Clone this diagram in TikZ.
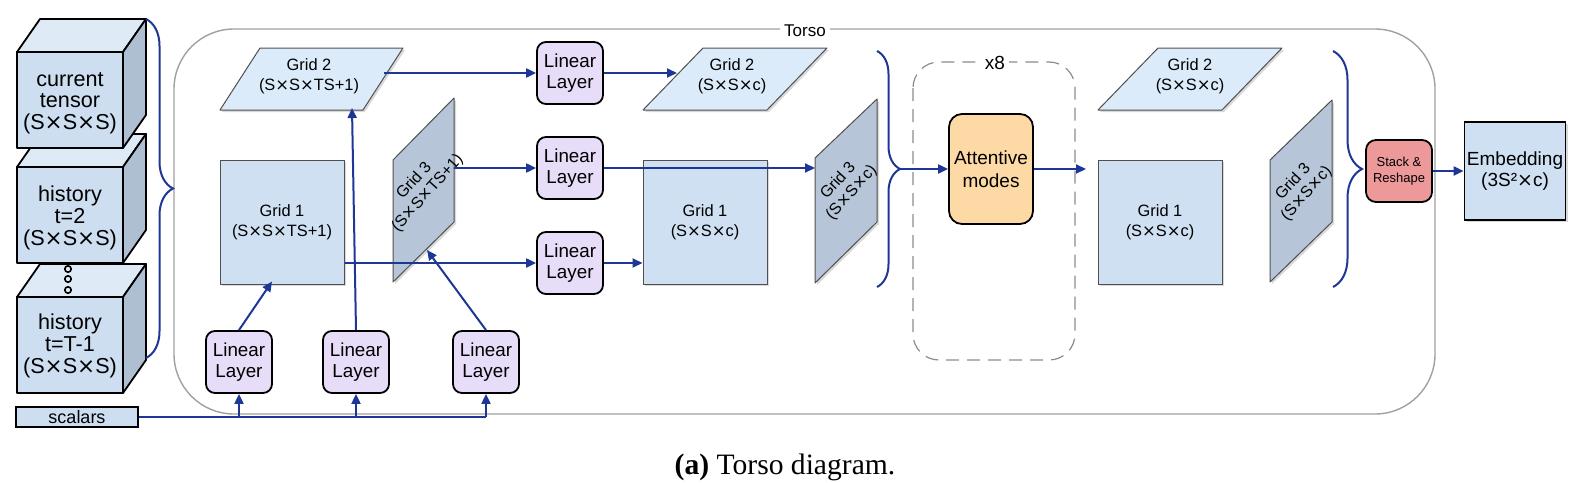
\documentclass[tikz,border=0pt]{standalone}
\usepackage{fontspec}
\setmainfont{Liberation Serif}
\setsansfont{Liberation Sans}
\newfontfamily\djv{DejaVu Sans}
\newcommand\tms{{\djv ×}}
\usetikzlibrary{arrows.meta,decorations.pathreplacing,shadows,calc}

\definecolor{ablue}{RGB}{30,55,150}
\definecolor{gborder}{RGB}{80,80,80}
\definecolor{gonefill}{RGB}{207,224,242}
\definecolor{gtwofill}{RGB}{220,235,250}
\definecolor{gthreefill}{RGB}{182,198,216}
\definecolor{llfill}{RGB}{232,221,248}
\definecolor{attfill}{RGB}{253,217,165}
\definecolor{stackfill}{RGB}{238,153,153}
\definecolor{cubefront}{RGB}{205,222,240}
\definecolor{cubetop}{RGB}{222,234,246}
\definecolor{cubeside}{RGB}{174,191,210}
\definecolor{torsogray}{RGB}{160,160,160}
\definecolor{dashgray}{RGB}{140,140,140}

\tikzset{
  arr/.style={draw=ablue, line width=1pt, -{Triangle[length=5pt,width=4.5pt]}},
  bus/.style={draw=ablue, line width=1pt},
  brc/.style={draw=ablue, line width=1pt, decorate, decoration={brace, amplitude=#1}},
  llbox/.style={draw=black, line width=0.9pt, rounded corners=4.5pt, fill=llfill,
    minimum width=33pt, minimum height=31pt, inner sep=0pt, align=center,
    font=\sffamily\fontsize{9.4}{10.8}\selectfont},
  gridsq/.style={draw=gborder, line width=0.5pt, fill=gonefill, minimum width=62pt,
    minimum height=62pt, inner sep=0pt, align=center,
    font=\sffamily\fontsize{8.2}{10}\selectfont,
    drop shadow={opacity=0.3, shadow xshift=1pt, shadow yshift=-1pt}},
  gridtxt/.style={align=center, inner sep=0pt, font=\sffamily\fontsize{8.2}{10}\selectfont},
  rottxt/.style={align=center, inner sep=0pt, rotate=48, font=\sffamily\fontsize{8}{9}\selectfont},
  pgramtwo/.style={draw=gborder, line width=0.5pt, fill=gtwofill, line join=round,
    drop shadow={opacity=0.3, shadow xshift=1pt, shadow yshift=-1pt}},
  pgramthree/.style={draw=gborder, line width=0.5pt, fill=gthreefill, line join=round,
    drop shadow={opacity=0.3, shadow xshift=1pt, shadow yshift=-1pt}},
  cubeline/.style={draw=black, line width=0.9pt, line join=round},
  cubetxt/.style={align=center, inner sep=0pt, font=\sffamily\fontsize{10.8}{10.8}\selectfont},
  cube/.pic={
    \draw[cubeline, fill=cubetop] (0,0) -- (23,-33) -- (129,-33) -- (106,0) -- cycle;
    \draw[cubeline, fill=cubeside] (106,0) -- (129,-33) -- (129,63) -- (106,96) -- cycle;
    \draw[cubeline, fill=cubefront] (0,0) rectangle (106,96);
  }
}

\begin{document}
\begin{tikzpicture}[x=0.5pt,y=-0.5pt]
\useasboundingbox (0,0) rectangle (1582,482);

% Torso frame
\draw[torsogray, line width=0.7pt, rounded corners=30pt] (174,29) rectangle (1435,414);
\node[fill=white, inner sep=2pt, font=\sffamily\fontsize{8.5}{10}\selectfont] (torsolbl) at (805,31) {Torso};

% cubes (back to front)
\pic at (17,297) {cube};
\pic at (17,167) {cube};
\pic at (17,52) {cube};
\node[cubetxt] (cthree) at (70,346) {history\\t=T-1\\(S\tms S\tms S)};
\node[cubetxt] (ctwo) at (70,218) {history\\t=2\\(S\tms S\tms S)};
\node[cubetxt] (cone) at (70,103) {current\\tensor\\(S\tms S\tms S)};
\foreach \yy in {269,279,290}
  \draw[line width=0.8pt, fill=cubetop] (68,\yy) circle (1.6pt);

% scalars
\node[draw=black, line width=0.8pt, fill=cubefront, minimum width=61pt, minimum height=10pt,
  inner sep=0pt, font=\sffamily\fontsize{9}{10}\selectfont] (scal) at (77,417) {scalars};

% left brace
\draw[brc=13.5pt] (146,19) -- (146,358);

% ---- left grids ----
\draw[pgramtwo] (220,110) -- (363,110) -- (403,48) -- (260,48) -- cycle;
\node[gridtxt] (gtwoL) at (309,76) {Grid 2\\(S\tms S\tms TS+1)};
\node[gridsq] (goneL) at (282,222) {Grid 1\\(S\tms S\tms TS+1)};
\draw[pgramthree] (393,160) -- (454,98) -- (454,222) -- (393,282) -- cycle;
\node[rottxt] (gthreeL) at (421,187) {Grid 3\\(S\tms S\tms TS+1)};

\coordinate (gtwoLout) at (384,73);
\coordinate (gtwoLin) at (352,108);
\coordinate (gthreeLout) at (454,168);
\coordinate (gthreeLin) at (427,250);

% linear layers
\node[llbox] (LLa) at (239,362) {Linear\\Layer};
\node[llbox] (LLb) at (356,362) {Linear\\Layer};
\node[llbox] (LLc) at (486,362) {Linear\\Layer};
\node[llbox] (LLone) at (570,73) {Linear\\Layer};
\node[llbox] (LLtwo) at (570,168) {Linear\\Layer};
\node[llbox] (LLthree) at (570,263) {Linear\\Layer};

% ---- middle grids ----
\draw[pgramtwo] (643,110) -- (767,110) -- (827,48) -- (703,48) -- cycle;
\node[gridtxt] (gtwoM) at (732,76) {Grid 2\\(S\tms S\tms c)};
\node[gridsq] (goneM) at (705,222) {Grid 1\\(S\tms S\tms c)};
\draw[pgramthree] (815,158) -- (877,99) -- (877,222) -- (815,283) -- cycle;
\node[rottxt] (gthreeM) at (845,187) {Grid 3\\(S\tms S\tms c)};
\coordinate (gtwoMin) at (677,73);
\coordinate (gthreeMin) at (815,168);

% middle brace
\draw[brc=11.5pt] (877,51) -- (877,287);
\coordinate (bracetipM) at (900,169);

% attentive modes
\draw[dashgray, line width=0.6pt, dash pattern=on 6.5pt off 4pt, rounded corners=13pt]
  (913,62) rectangle (1075,360);
\node[fill=white, inner sep=2pt, font=\sffamily\fontsize{9.5}{10}\selectfont] (xeight) at (995,63) {x8};
\node[draw=black, line width=0.9pt, rounded corners=6.5pt, fill=attfill, minimum width=42pt,
  minimum height=55pt, inner sep=0pt, align=center,
  font=\sffamily\fontsize{9.5}{11.5}\selectfont] (att) at (991,169) {Attentive\\modes};
\coordinate (attout) at (1086,169);

% ---- right grids ----
\draw[pgramtwo] (1098,110) -- (1222,110) -- (1282,48) -- (1158,48) -- cycle;
\node[gridtxt] (gtwoR) at (1190,76) {Grid 2\\(S\tms S\tms c)};
\node[gridsq] (goneR) at (1160,222) {Grid 1\\(S\tms S\tms c)};
\draw[pgramthree] (1270,160) -- (1332,100) -- (1332,222) -- (1270,282) -- cycle;
\node[rottxt] (gthreeR) at (1300,188) {Grid 3\\(S\tms S\tms c)};

% right brace
\draw[brc=14.5pt] (1333,51) -- (1333,287);

% stack & embedding
\node[draw=black, line width=0.9pt, rounded corners=5pt, fill=stackfill, minimum width=33pt,
  minimum height=31pt, inner sep=0pt, align=center,
  font=\sffamily\fontsize{6.5}{8.3}\selectfont] (stack) at (1399,171) {Stack \&\\Reshape};
\node[draw=black, line width=0.9pt, fill=gonefill, minimum width=50.5pt, minimum height=49pt,
  inner sep=0pt, align=center, font=\sffamily\fontsize{9.5}{10.8}\selectfont,
  drop shadow={opacity=0.3, shadow xshift=1pt, shadow yshift=-1pt}] (emb) at (1515,171)
  {Embedding\\(3S²\tms c)};

% ---- connectors ----
\coordinate (busA) at (LLa.south |- scal.east);
\coordinate (busB) at (LLb.south |- scal.east);
\coordinate (busC) at (LLc.south |- scal.east);
\draw[bus] (scal.east) -- (busC);
\draw[arr] (busA) -- (LLa.south);
\draw[arr] (busB) -- (LLb.south);
\draw[arr] (busC) -- (LLc.south);

\draw[arr] (LLa.north) -- ($(goneL.south)+(-10,-3)$);
\draw[arr] (LLb.north) -- (gtwoLin);
\draw[arr] (LLc.north) -- (gthreeLin);

\draw[arr] (gtwoLout) -- (LLone.west);
\draw[arr] (gthreeLout) -- (LLtwo.west);
\draw[arr] (goneL.east |- LLthree.west) -- (LLthree.west);

\draw[arr] (LLone.east) -- (gtwoMin);
\draw[arr] (LLtwo.east) -- (gthreeMin);
\draw[arr] (LLthree.east) -- (goneM.west |- LLthree.east);

\draw[arr] (bracetipM) -- (att.west);
\draw[arr] (att.east) -- (attout);
\draw[arr] (stack.east) -- (emb.west);

% caption
\node[font=\rmfamily\fontsize{14.8}{17}\selectfont, inner sep=0pt] (cap) at (785,467)
  {\textbf{(a)} Torso diagram.};
\end{tikzpicture}
\end{document}
